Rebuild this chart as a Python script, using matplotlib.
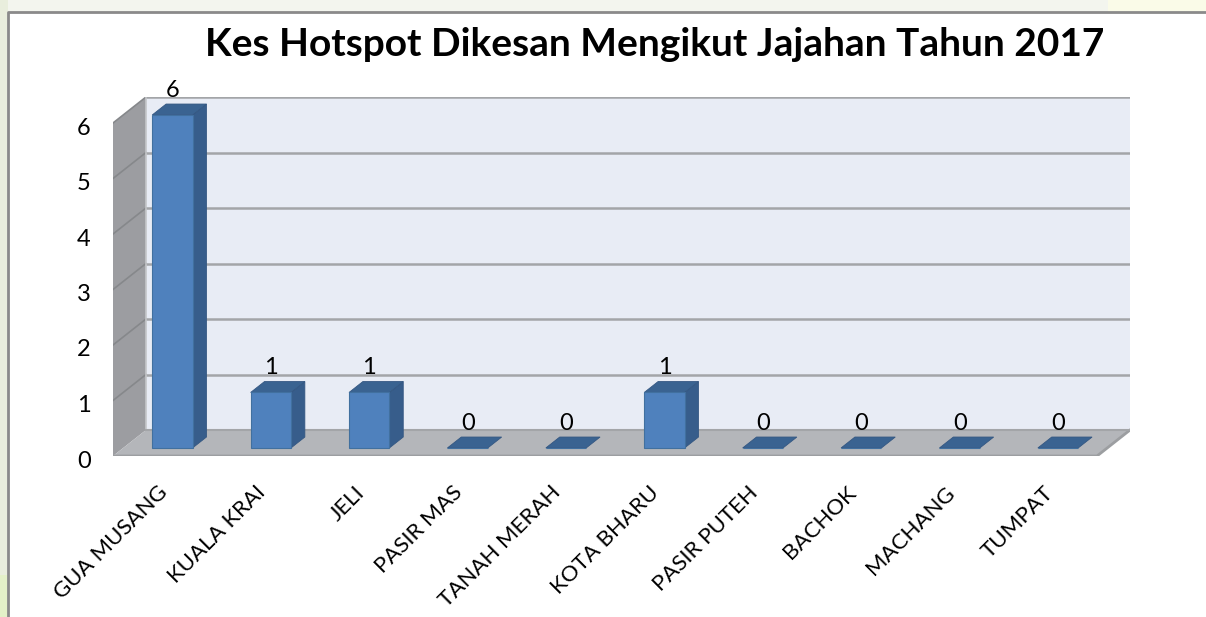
import numpy as np
import matplotlib.pyplot as plt
from matplotlib.patches import Polygon, Rectangle
from matplotlib.transforms import ScaledTranslation

plt.rcParams['font.family'] = ['Lato', 'DejaVu Sans']

# data
districts = ['GUA MUSANG', 'KUALA KRAI', 'JELI', 'PASIR MAS', 'TANAH MERAH',
             'KOTA BHARU', 'PASIR PUTEH', 'BACHOK', 'MACHANG', 'TUMPAT']
cases = [6, 1, 1, 0, 0, 1, 0, 0, 0, 0]
yticks = [0, 1, 2, 3, 4, 5, 6]
title = 'Kes Hotspot Dikesan Mengikut Jajahan Tahun 2017'

# oblique "3d" look: depth offset in data units
DX = 0.335
DY = 0.468
Z0, Z1 = 0.31, 0.73   # bar depth, front and back
BW = 0.41
YMAX = 6

W, H = 1206, 617
fig = plt.figure(figsize=(W / 100, H / 100), dpi=100)

# background strips and outer frame, in pixel coords
bg = fig.add_axes([0, 0, 1, 1], zorder=0)
bg.set_xlim(0, W)
bg.set_ylim(H, 0)
bg.axis('off')
bg.add_patch(Rectangle((0, 0), W, 12, color='#f3f5ee', lw=0))
bg.add_patch(Rectangle((1108, 0), W - 1108, 12, color='#fafbe8', lw=0))
bg.add_patch(Rectangle((0, 0), 8, H, color='#e9eedd', lw=0))
bg.add_patch(Rectangle((0, 575), 8, H - 575, color='#e4f1c8', lw=0))
bg.plot([8, 8, W], [H, 12, 12], color='#8a8a8a', lw=2, solid_capstyle='butt')

# chart axes: x in category units, y in value units
px_l, px_r = 113, 1130
px_bot = 456
px_top = px_bot - (YMAX + DY) * 55.5
ax = fig.add_axes([px_l / W, (H - px_bot) / H, (px_r - px_l) / W, (px_bot - px_top) / H], zorder=1)
ax.set_xlim(-0.5, len(districts) - 0.5 + DX)
ax.set_ylim(0, YMAX + DY)
ax.patch.set_alpha(0)
for s in ax.spines.values():
    s.set_visible(False)

x0, x1 = -0.5, len(districts) - 0.5

# back wall
ax.add_patch(Polygon([(x0 + DX, DY), (x1 + DX, DY), (x1 + DX, YMAX + DY), (x0 + DX, YMAX + DY)],
                     closed=True, fc='#e8ecf5', ec='none', zorder=1))
for v in yticks[1:]:
    ax.plot([x0 + DX, x1 + DX], [v + DY, v + DY], color='#a3a5a8', lw=1.8, zorder=2)
# left wall
ax.add_patch(Polygon([(x0, 0), (x0 + DX, DY), (x0 + DX, YMAX + DY), (x0, YMAX)],
                     closed=True, fc='#9c9da1', ec='none', zorder=3))
for v in yticks[1:]:
    ax.plot([x0, x0 + DX], [v, v + DY], color='#86888b', lw=1.2, zorder=4)
ax.plot([x0 + DX, x0 + DX], [DY, YMAX + DY], color='#c4c6c9', lw=1.2, zorder=4)
# floor
ax.add_patch(Polygon([(x0, 0), (x1, 0), (x1 + DX, DY), (x0 + DX, DY)],
                     closed=True, fc='#b4b6ba', ec='none', zorder=3))
ax.plot([x0, x1, x1 + DX], [0, 0, DY], color='#9c9ea1', lw=2, zorder=4)
ax.plot([x0 + DX, x1 + DX], [DY, DY], color='#a3a5a8', lw=1.5, zorder=4)

# bars
xs = np.arange(len(districts))
xf = xs + Z0 * DX
b0 = Z0 * DY
dx = (Z1 - Z0) * DX
dy = (Z1 - Z0) * DY
for xc, v in zip(xf, cases):
    l, r = xc - BW / 2, xc + BW / 2
    top = b0 + v
    if v > 0:
        ax.add_patch(Polygon([(r, b0), (r + dx, b0 + dy), (r + dx, top + dy), (r, top)],
                             closed=True, fc='#375d8b', ec='#345782', lw=0.6, zorder=5))
    ax.add_patch(Polygon([(l, top), (r, top), (r + dx, top + dy), (l + dx, top + dy)],
                         closed=True, fc='#3a6391', ec='#345782', lw=0.6, zorder=5))
ax.bar(xf, cases, width=BW, bottom=b0, color='#4f81bd', edgecolor='#41709f', lw=0.8, zorder=6)

for xc, v in zip(xf, cases):
    ax.text(xc, v + Z1 * DY + 0.25, str(v), ha='center', va='center',
            fontsize=17, color='black', zorder=7)

ax.set_yticks(yticks)
ax.set_yticklabels([str(v) for v in yticks], fontsize=17, va='center_baseline')
ax.tick_params(axis='y', length=0, pad=16)
shift = ScaledTranslation(0, -3 / 100, fig.dpi_scale_trans)
for lab in ax.get_yticklabels():
    lab.set_transform(lab.get_transform() + shift)
ax.set_xticks(xs - 0.05)
ax.set_xticklabels(districts, rotation=45, ha='right', rotation_mode='anchor', fontsize=16)
ax.tick_params(axis='x', length=0, pad=19)

fig.text(655 / W, 1 - 44 / H, title, ha='center', va='center', fontsize=28, fontweight='bold')

fig.savefig('out.png', dpi=100)
